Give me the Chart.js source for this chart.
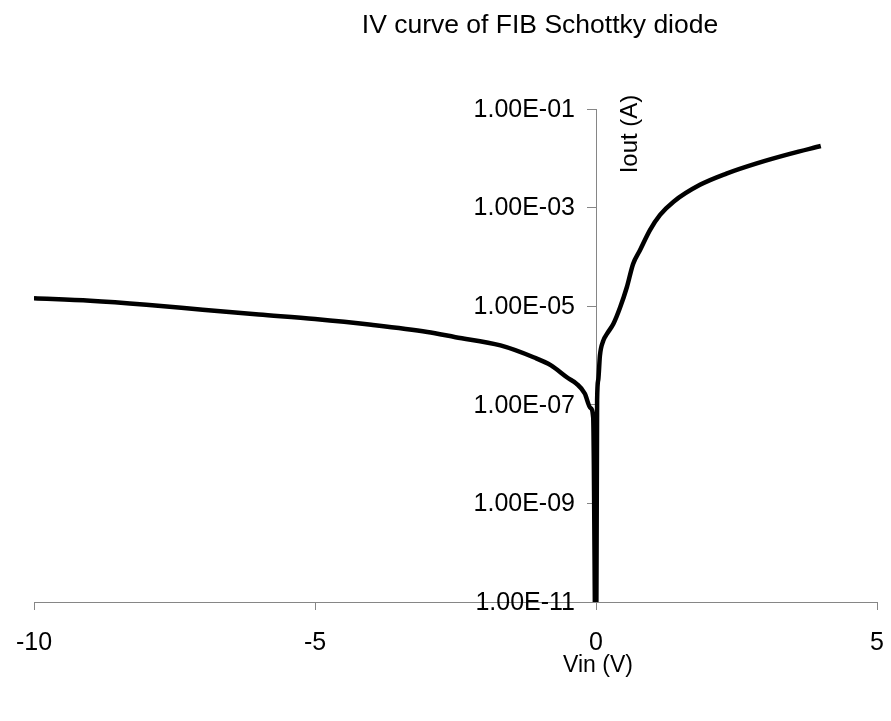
<!DOCTYPE html>
<html>
<head>
<meta charset="utf-8">
<script src="https://cdn.jsdelivr.net/npm/chart.js@4.4.0/dist/chart.umd.min.js"></script>
<style>
  html, body { margin: 0; padding: 0; background: #fff; }
  #wrap { width: 891px; height: 721px; }
</style>
</head>
<body>
<div id="wrap"><canvas id="c" width="891" height="721"></canvas></div>
<script>
// Measured sweep: bias voltage (V) and current magnitude (A)
const voltage = [
  -10, -9, -8, -7, -6, -5, -4, -3, -2.5, -1.7, -1.1, -0.8, -0.5, -0.35, -0.2, -0.1, -0.05,
  0,
  0.02, 0.04, 0.07, 0.13, 0.2, 0.31, 0.43, 0.55, 0.66, 0.78, 0.96, 1.14, 1.38, 1.85, 2.32, 2.86, 3.45, 4.0
];
const current = [
  1.45e-5, 1.29e-5, 1.07e-5, 8.5e-6, 6.8e-6, 5.5e-6, 4.2e-6, 3.0e-6, 2.35e-6, 1.6e-6, 9.1e-7, 6.3e-7, 3.5e-7, 2.7e-7, 1.7e-7, 8.7e-8, 5.5e-8,
  1e-13,
  1.26e-7, 3.2e-7, 1.0e-6, 2.0e-6, 2.8e-6, 4.4e-6, 9.5e-6, 2.45e-5, 7.2e-5, 1.35e-4, 3.5e-4, 7.1e-4, 1.32e-3, 2.9e-3, 4.9e-3, 7.9e-3, 1.23e-2, 1.78e-2
];

const xTicks = [-10, -5, 0, 5];
const yTicks = [1e-1, 1e-3, 1e-5, 1e-7, 1e-9, 1e-11];

const chartTitle = 'IV curve of FIB Schottky diode';
const xTitle = 'Vin (V)';
const yTitle = 'Iout (A)';

const FONT = 'Liberation Sans, Arial, sans-serif';
const AXIS_GREY = '#868686';

// Excel-style scientific label: 1.00E-05
function sci(v) {
  const [m, e] = Number(v).toExponential(2).toUpperCase().split('E');
  const neg = e[0] === '-';
  const digits = e.replace(/[+-]/, '').padStart(2, '0');
  return m + 'E' + (neg ? '-' : '+') + digits;
}

// Titles plus the y tick labels, which sit left of the axis crossing at x = 0
const textPlugin = {
  id: 'chartTexts',
  afterDraw(chart) {
    const ctx = chart.ctx;
    const xs = chart.scales.x;
    const ys = chart.scales.y;
    const axisX = xs.getPixelForValue(0);
    ctx.save();
    ctx.fillStyle = '#000';

    ctx.font = '25px ' + FONT;
    ctx.textAlign = 'right';
    ctx.textBaseline = 'middle';
    ys.ticks.forEach(t => {
      ctx.fillText(sci(t.value), axisX - 21, ys.getPixelForValue(t.value) + 1);
    });

    ctx.textAlign = 'center';
    ctx.textBaseline = 'alphabetic';
    ctx.font = '26.5px ' + FONT;
    ctx.fillText(chartTitle, 540, 33);

    ctx.font = '23px ' + FONT;
    ctx.fillText(xTitle, axisX + 2, 672);

    ctx.font = '24px ' + FONT;
    ctx.translate(axisX + 41, ys.getPixelForValue(1e-1) + 25);
    ctx.rotate(-Math.PI / 2);
    ctx.fillText(yTitle, 0, 0);
    ctx.restore();
  }
};

new Chart(document.getElementById('c'), {
  type: 'line',
  data: {
    datasets: [{
      data: voltage.map((v, i) => ({ x: v, y: current[i] })),
      borderColor: '#000',
      borderWidth: 4.5,
      pointRadius: 0,
      cubicInterpolationMode: 'monotone',
      fill: false,
      clip: 0
    }]
  },
  options: {
    responsive: false,
    devicePixelRatio: 1,
    animation: false,
    layout: { padding: { left: 34, right: 14, top: 109, bottom: 0 } },
    plugins: { legend: { display: false }, tooltip: { enabled: false }, title: { display: false } },
    scales: {
      x: {
        type: 'linear',
        min: -10,
        max: 5,
        afterBuildTicks: s => { s.ticks = xTicks.map(v => ({ value: v })); },
        afterFit: s => { s.height = 721 - 602; s.paddingLeft = 0; s.paddingRight = 0; },
        grid: { drawOnChartArea: false, drawTicks: true, tickLength: 8, color: AXIS_GREY, lineWidth: 1 },
        border: { color: AXIS_GREY, width: 1 },
        ticks: { color: '#000', font: { family: FONT, size: 25 }, padding: 18, maxRotation: 0, autoSkip: false }
      },
      y: {
        type: 'logarithmic',
        min: 1e-11,
        max: 1e-1,
        position: { x: 0 },
        afterBuildTicks: s => { s.ticks = yTicks.map(v => ({ value: v })); },
        afterFit: s => { s.width = 0; },
        grid: { drawOnChartArea: false, drawTicks: true, tickLength: 9, color: AXIS_GREY, lineWidth: 1 },
        border: { color: AXIS_GREY, width: 1 },
        ticks: { display: false }
      }
    }
  },
  plugins: [textPlugin]
});
</script>
</body>
</html>
